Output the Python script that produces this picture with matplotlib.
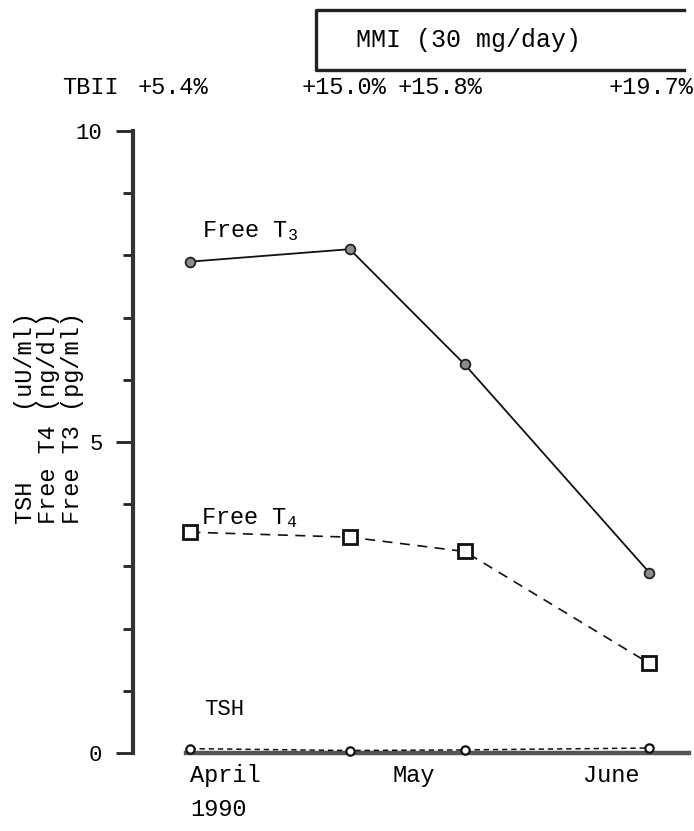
import matplotlib
matplotlib.use("Agg")
import matplotlib.pyplot as plt
from matplotlib.lines import Line2D

plt.rcParams.update({
    "font.family": "Liberation Mono",
    "mathtext.fontset": "custom",
    "mathtext.rm": "Liberation Mono",
    "mathtext.it": "Liberation Mono",
    "font.size": 17,
})

# sampling dates, day of year 1990
days = [101, 126, 144, 173]
free_t3 = [7.9, 8.1, 6.25, 2.9]     # pg/ml
free_t4 = [3.55, 3.47, 3.24, 1.44]  # ng/dl
tsh = [0.07, 0.04, 0.05, 0.08]      # uU/ml

month_days = [106.5, 136, 167]
month_labels = ["April\n1990", "May", "June"]

tbii_labels = ["TBII", "+5.4%", "+15.0%", "+15.8%", "+19.7%"]
tbii_xpx = [62, 138, 302, 398, 693]
tbii_ha = ["left", "left", "left", "left", "right"]

W, H = 694, 831


def fx(px):
    return px / W


def fy(py):
    return 1 - py / H


fig = plt.figure(figsize=(W / 100, H / 100), dpi=100)
ax = fig.add_axes([fx(133), fy(753), 1 - fx(133), (753 - 131) / H])

ax.plot(days, free_t3, color="#111", lw=1.3, marker="o", ms=7,
        mfc="#8c8c8c", mec="#222", mew=1.3, clip_on=False, zorder=3)
ax.plot(days, free_t4, color="#111", lw=1.2, ls=(0, (6, 4.5)), marker="s", ms=10,
        mfc="white", mec="#111", mew=2.0, clip_on=False, zorder=3)
ax.plot(days, tsh, color="#111", lw=1.1, ls=(0, (3.5, 2.5)), marker="o", ms=6,
        mfc="white", mec="#111", mew=1.6, clip_on=False, zorder=4)

ax.annotate("Free T$_3$", (days[0], free_t3[0]), xytext=(8.5, 18),
            textcoords="offset points", ha="left", va="baseline")
ax.annotate("Free T$_4$", (days[0], free_t4[0]), xytext=(8, 5.5),
            textcoords="offset points", ha="left", va="baseline")
ax.annotate("TSH", (days[0], tsh[0]), xytext=(10, 24),
            textcoords="offset points", ha="left", va="baseline", fontsize=16)

ax.set_xlim(92, 180)
ax.set_ylim(0, 10)
for s in ["top", "right"]:
    ax.spines[s].set_visible(False)
ax.spines["left"].set_linewidth(3)
ax.spines["left"].set_color("#333")
ax.spines["bottom"].set_linewidth(3.2)
ax.spines["bottom"].set_color("#555")
ax.spines["bottom"].set_bounds(days[0] - 0.7, 179.2)

ax.set_yticks([0, 5, 10])
ax.set_yticks(range(0, 11), minor=True)
ax.tick_params(axis="y", which="major", direction="out", length=12, width=2,
               color="#222", pad=10, labelsize=16)
ax.tick_params(axis="y", which="minor", direction="out", length=7, width=2,
               color="#222")
ax.set_xticks(month_days)
ax.set_xticklabels(month_labels, linespacing=1.6)
ax.get_xticklabels()[0].set_multialignment("left")
ax.tick_params(axis="x", length=0, pad=8)

fig.text(fx(49), fy(418), "TSH     (uU/ml)\nFree T4 (ng/dl)\nFree T3 (pg/ml)",
         rotation=90, ha="center", va="center", linespacing=1.0)

for lab, xp, ha in zip(tbii_labels, tbii_xpx, tbii_ha):
    fig.text(fx(xp), fy(87), lab, ha=ha, va="center")

# MMI treatment bar, open at the right
fig.add_artist(Line2D([fx(684), fx(316), fx(316), fx(684)],
                      [fy(10), fy(10), fy(70), fy(70)],
                      transform=fig.transFigure, color="#222", lw=2.4))
fig.text(fx(356), fy(40), "MMI (30 mg/day)", ha="left", va="center", fontsize=18)

fig.savefig("out.png", dpi=100)
